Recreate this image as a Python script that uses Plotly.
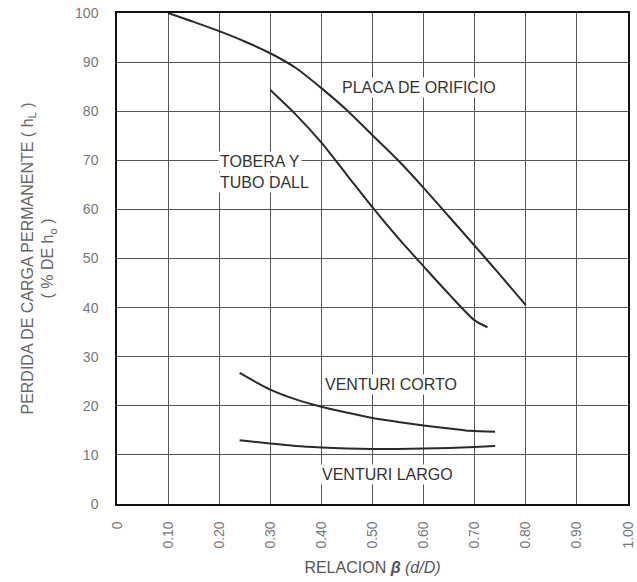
import plotly.graph_objects as go

# Data
orif_x = [0.10, 0.15, 0.20, 0.25, 0.30, 0.35, 0.40, 0.45, 0.50, 0.55, 0.60, 0.65, 0.70, 0.75, 0.80]
orif_y = [100, 98.2, 96.3, 94.2, 91.8, 88.8, 84.7, 80.2, 75.1, 70.0, 64.4, 58.5, 52.6, 46.6, 40.5]

tob_x = [0.30, 0.35, 0.40, 0.45, 0.50, 0.55, 0.60, 0.65, 0.70, 0.725]
tob_y = [84.3, 79.3, 73.6, 67.0, 60.4, 54.2, 48.4, 42.7, 37.4, 36.0]

vc_x = [0.24, 0.30, 0.35, 0.40, 0.45, 0.50, 0.55, 0.60, 0.65, 0.69, 0.74]
vc_y = [26.7, 23.3, 21.3, 19.8, 18.6, 17.5, 16.7, 16.0, 15.4, 14.9, 14.7]

vl_x = [0.24, 0.30, 0.35, 0.40, 0.45, 0.50, 0.55, 0.60, 0.65, 0.70, 0.74]
vl_y = [13.0, 12.3, 11.8, 11.5, 11.3, 11.2, 11.2, 11.3, 11.4, 11.6, 11.8]

x_ticks = [0, 0.1, 0.2, 0.3, 0.4, 0.5, 0.6, 0.7, 0.8, 0.9, 1.0]
x_labels = ["0", "0.10", "0.20", "0.30", "0.40", "0.50", "0.60", "0.70", "0.80", "0.90", "1.00"]
y_ticks = [0, 10, 20, 30, 40, 50, 60, 70, 80, 90, 100]

labels = [
    ("PLACA DE ORIFICIO", 0.437, 84.9),
    ("TOBERA Y", 0.198, 69.8),
    ("TUBO DALL", 0.198, 65.5),
    ("VENTURI CORTO", 0.404, 24.3),
    ("VENTURI LARGO", 0.398, 6.1),
]

FONT = "Liberation Sans, Arial, sans-serif"
line_col = "#2a2a2a"

fig = go.Figure()
for xs, ys in [(orif_x, orif_y), (tob_x, tob_y), (vc_x, vc_y), (vl_x, vl_y)]:
    fig.add_trace(go.Scatter(x=xs, y=ys, mode="lines",
                             line=dict(color=line_col, width=2, shape="spline", smoothing=0.8),
                             showlegend=False, hoverinfo="skip"))

for txt, x, y in labels:
    fig.add_annotation(x=x, y=y, text=txt, showarrow=False, xanchor="left",
                       yanchor="middle", bgcolor="white", borderpad=1,
                       font=dict(family=FONT, size=16, color="#333333"))

fig.update_layout(
    width=637, height=582,
    margin=dict(l=117, r=9, t=13, b=78),
    paper_bgcolor="white", plot_bgcolor="white",
    font=dict(family=FONT),
)
fig.update_xaxes(
    range=[0, 1.0], tickmode="array", tickvals=x_ticks, ticktext=x_labels,
    tickangle=-90, tickfont=dict(size=14, color="#777777"),
    showgrid=True, gridcolor="#555555", gridwidth=1,
    showline=True, linecolor="#111111", linewidth=1.5, mirror=True,
    ticks="", ticklabelstandoff=10, zeroline=False, automargin=False,
    ticklabeloverflow="allow",
    title=dict(text="RELACION <b><i>β</i></b> <i>(d/D)</i>",
               font=dict(size=16, color="#555555"), standoff=14),
)
fig.update_yaxes(
    range=[0, 100], tickmode="array", tickvals=y_ticks,
    tickfont=dict(size=14, color="#777777"),
    showgrid=True, gridcolor="#555555", gridwidth=1,
    showline=True, linecolor="#111111", linewidth=1.5, mirror=True,
    ticks="", ticklabelstandoff=14, zeroline=False, automargin=False,
    ticklabeloverflow="allow",
    title=dict(text="PERDIDA DE CARGA PERMANENTE ( h<sub>L</sub> )<br>( % DE h<sub>o</sub> )",
               font=dict(size=16, color="#666666"), standoff=17),
)

# remove the browser's default 8px body margin so the figure fills the window
fig.write_html("out.html",
               config={"displayModeBar": False},
               post_script="document.body.style.margin='0';document.body.style.overflow='hidden';")
